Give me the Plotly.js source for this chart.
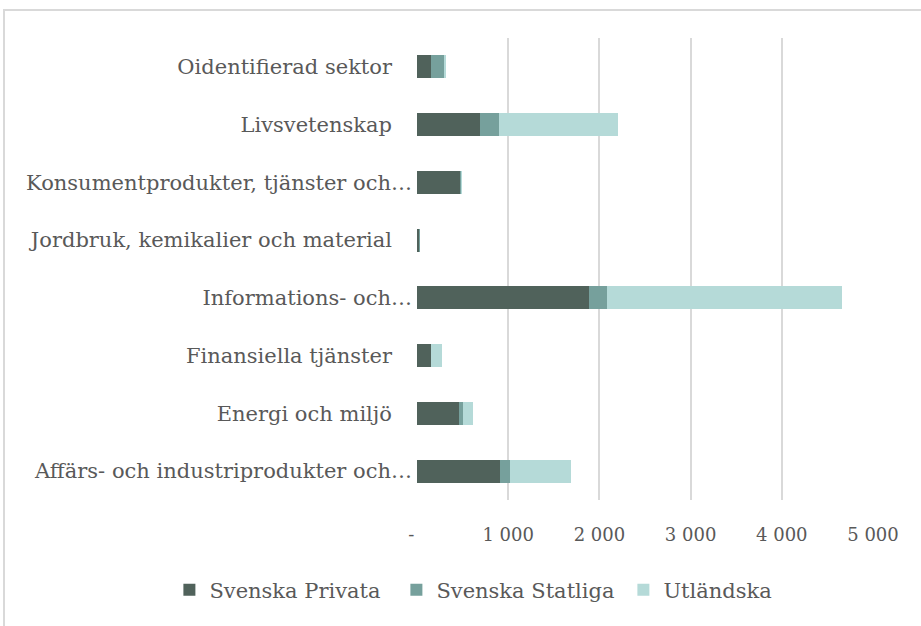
<!DOCTYPE html>
<html>
<head>
<meta charset="utf-8">
<script src="https://cdn.plot.ly/plotly-3.0.1.min.js"></script>
<style>
html,body{margin:0;padding:0;overflow:hidden;background:#fff;}
#wrap{position:relative;width:921px;height:626px;overflow:hidden;}
#chart{position:absolute;left:0;top:0;width:921px;height:626px;}
#frame{position:absolute;left:3px;top:9px;width:1000px;height:1000px;border:2px solid #d9d9d9;pointer-events:none;}
</style>
</head>
<body>
<div id="wrap"><div id="chart"></div><div id="frame"></div></div>
<script>
// Categories, top to bottom as displayed
const categories = [
  "Oidentifierad sektor",
  "Livsvetenskap",
  "Konsumentprodukter, tjänster och…",
  "Jordbruk, kemikalier och material",
  "Informations- och…",
  "Finansiella tjänster",
  "Energi och miljö",
  "Affärs- och industriprodukter och…"
];
const svenskaPrivata  = [154, 688, 476, 25, 1886, 154, 465, 915];
const svenskaStatliga = [139, 213, 10, 11, 198, 0, 40, 110];
const utlandska       = [26, 1308, 5, 0, 2579, 124, 110, 663];

const xTickVals = [0, 1000, 2000, 3000, 4000, 5000];
const xTickText = ["-\u00a0\u00a0", "1 000", "2 000", "3 000", "4 000", "5 000"];

const seriesNames = ["Svenska Privata", "Svenska Statliga", "Utländska"];
const colors = ["#50625b", "#76a09c", "#b5dad8"];

const FONT = "DejaVu Serif";
const pad = "\u00a0\u00a0\u00a0";
const yTickText = categories.map(c => c.endsWith("…") ? c : c + pad);

const traces = [svenskaPrivata, svenskaStatliga, utlandska].map((vals, i) => ({
  type: "bar",
  orientation: "h",
  name: seriesNames[i],
  x: vals,
  y: categories,
  marker: {color: colors[i], line: {width: 0}},
  hoverinfo: "x+name"
}));

const layout = {
  width: 921, height: 626,
  barmode: "stack",
  bargap: 0.6,
  paper_bgcolor: "#fff",
  plot_bgcolor: "#fff",
  margin: {l: 417, r: 48, t: 38, b: 126, pad: 0, autoexpand: false},
  font: {family: FONT, size: 18, color: "#595959"},
  showlegend: true,
  legend: {
    orientation: "h",
    xref: "paper", yref: "paper",
    x: -0.543, xanchor: "left",
    y: -0.195, yanchor: "middle",
    font: {family: FONT, size: 21, color: "#595959"},
    traceorder: "normal",
    entrywidth: 182,
    itemwidth: 30
  },
  xaxis: {
    range: [0, 5000],
    tickvals: xTickVals,
    ticktext: xTickText,
    showgrid: true,
    gridcolor: "#d9d9d9",
    gridwidth: 2,
    zeroline: false,
    showline: false,
    ticks: "",
    ticklabelstandoff: 22,
    tickfont: {family: FONT, size: 18, color: "#595959"},
    fixedrange: true
  },
  yaxis: {
    type: "category",
    autorange: "reversed",
    tickvals: categories,
    ticktext: yTickText,
    showgrid: false,
    zeroline: false,
    showline: false,
    ticks: "",
    ticklabelstandoff: 4,
    tickfont: {family: FONT, size: 21, color: "#595959"},
    fixedrange: true
  }
};

Plotly.newPlot("chart", traces, layout, {displayModeBar: false, staticPlot: true});
</script>
</body>
</html>
